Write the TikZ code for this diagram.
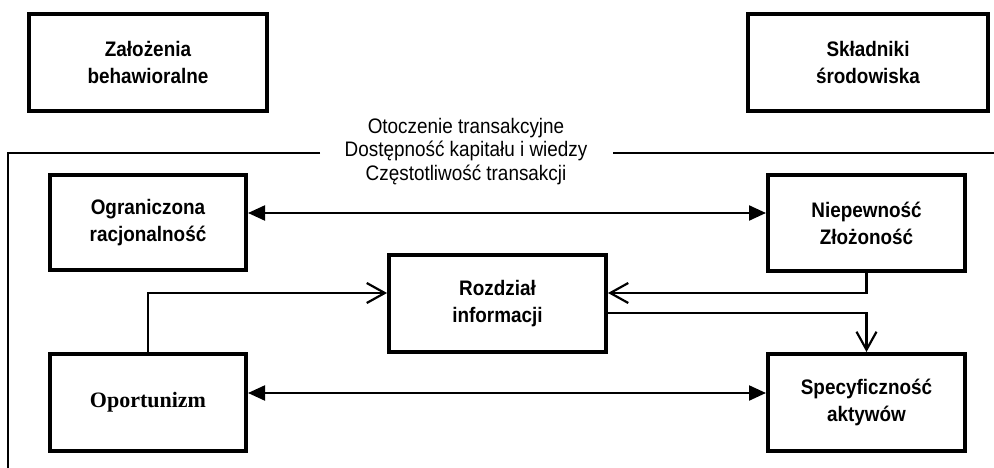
\documentclass[tikz,border=0pt]{standalone}
\usepackage{fontspec}
\setmainfont{Liberation Sans}[FakeStretch=0.9]
\newfontfamily\serifbold{Liberation Serif}
\usetikzlibrary{arrows.meta}
\tikzset{
  x=1pt, y=-1pt,
  box/.style={draw, line width=4pt, rectangle, inner sep=0pt, align=center,
    font=\fontsize{21}{27}\selectfont\bfseries},
  link/.style={line width=2.2pt},
  both/.style={link, {Triangle[length=17pt,width=15pt]}-{Triangle[length=17pt,width=15pt]}},
  open/.style={link, -{Straight Barb[length=18pt,width=20pt,line width=2.2pt]}},
  frame/.style={line width=1.5pt}
}
\begin{document}
\begin{tikzpicture}
\useasboundingbox (0,0) rectangle (994,468);
\node[box, minimum width=238pt, minimum height=97pt] (zal) at (148,62.5) {Założenia\\behawioralne};
\node[box, minimum width=240pt, minimum height=97pt] (skl) at (868,62.5) {Składniki\\środowiska};
\node[box, minimum width=196pt, minimum height=95pt] (ogr) at (148,222.5) {Ograniczona\\racjonalność};
\node[box, minimum width=197pt, minimum height=96pt] (nie) at (866.5,223) {Niepewność\\Złożoność};
\node[box, minimum width=217pt, minimum height=97pt] (roz) at (497.5,303.5) {Rozdział\\informacji};
\node[box, minimum width=196pt, minimum height=97pt, font=\fontsize{22}{27}\selectfont\serifbold\bfseries] (opo) at (148,402.5) {Oportunizm};
\node[box, minimum width=197pt, minimum height=97pt] (spe) at (866.5,402.5) {Specyficzność\\aktywów};
\node[align=center, anchor=north, inner sep=0pt, font=\fontsize{21}{23.5}\selectfont] (oto) at (466,118) {Otoczenie transakcyjne\\Dostępność kapitału i wiedzy\\Częstotliwość transakcji};
\coordinate (fl) at (320,153);
\coordinate (fc) at (8,153);
\coordinate (fb) at (8,468);
\coordinate (fr1) at (613,153);
\coordinate (fr2) at (994,153);
\draw[frame] (fl) -- (fc) -- (fb);
\draw[frame] (fr1) -- (fr2);
\draw[both] ([yshift=9.5pt]ogr.east) -- ([yshift=9.5pt]ogr.east -| nie.west);
\draw[both] ([yshift=9.5pt]opo.east) -- ([yshift=9.5pt]opo.east -| spe.west);
\draw[open] (opo.north) |- ([yshift=10.5pt]roz.west);
\draw[open] (nie.south) |- ([yshift=10.5pt]roz.east);
\draw[open] ([yshift=-9.5pt]roz.east) -| (spe.north);
\end{tikzpicture}
\end{document}
